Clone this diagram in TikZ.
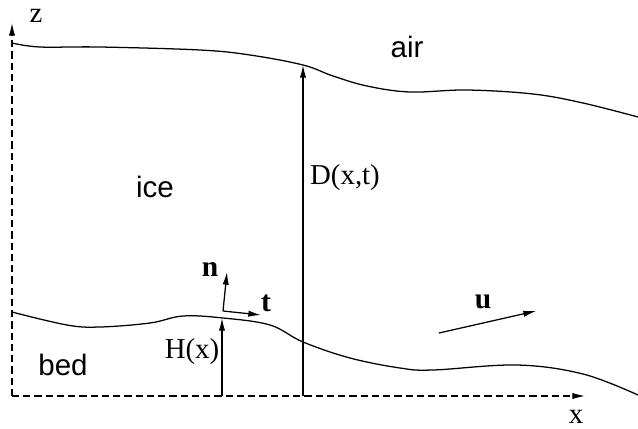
\documentclass[tikz,border=0pt]{standalone}
\usepackage{fontspec}
\setmainfont{Liberation Serif}
\setsansfont{Liberation Sans}
\usetikzlibrary{positioning, arrows.meta}

\begin{document}
\begin{tikzpicture}[
            x=0.025cm, y=-0.025cm,
            axis/.style={-{Latex[length=9pt, width=4.5pt]}, line width=0.8pt, dash pattern=on 5pt off 3pt},
            surface/.style={line width=0.9pt},
            arrow/.style={-{Latex[length=9pt, width=4.5pt]}, line width=0.9pt},
            region/.style={font=\sffamily\fontsize{21}{25}\selectfont, inner sep=0pt},
            label/.style={font=\fontsize{20.5}{24}\selectfont, inner sep=0pt},
            vec/.style={font=\bfseries\fontsize{21}{25}\selectfont, inner sep=0pt}
        ]
            \useasboundingbox (0,0) rectangle (638,428);

            % reference points
            \coordinate (origin) at (12,396);
            \coordinate (xend) at (585,396);
            \coordinate (zend) at (12,23);
            \coordinate (Dbase) at (303,396);
            \coordinate (Dtop) at (303,65);
            \coordinate (Hbase) at (222,396);
            \coordinate (Htop) at (222,318);
            \coordinate (ntbase) at (223,311);
            \coordinate (ntip) at (227,272);
            \coordinate (ttip) at (261,315);
            \coordinate (ubase) at (439,333);
            \coordinate (utip) at (536,311);

            % axes
            \draw[axis] (origin) -- (xend);
            \draw[axis] (origin) -- (zend);
            \node[label] (xlab) at (576,417) {x};
            \node[label] (zlab) at (36,16) {z};

            % ice surface and bed
            \draw[surface] plot[smooth, tension=0.6] coordinates {(12,43) (40,47) (100,47) (200,50) (250,55) (303,65) (333,76) (367,86) (410,92) (467,90) (533,94) (583,103) (638,117)};
            \draw[surface] plot[smooth, tension=0.6] coordinates {(12,312) (67,325) (100,327) (150,323) (183,316) (223,318) (270,325) (303,342) (350,358) (400,368) (433,370) (517,365) (583,374) (638,395)};

            % regions
            \node[region] (air) at (407,47) {air};
            \node[region] (ice) at (155,187) {ice};
            \node[region] (bed) at (63,365) {bed};

            % thickness and bed height
            \draw[arrow] (Dbase) -- (Dtop);
            \node[label] (Dlab) at (345,178) {D(x,t)};
            \draw[arrow] (Hbase) -- (Htop);
            \node[label] (Hlab) at (192,352) {H(x)};

            % normal, tangent and velocity
            \draw[arrow] (ntbase) -- (ntip);
            \draw[arrow] (ntbase) -- (ttip);
            \node[vec] (nlab) at (210,270) {n};
            \node[vec] (tlab) at (266,303) {t};
            \draw[arrow] (ubase) -- (utip);
            \node[vec] (ulab) at (483,302) {u};

        \end{tikzpicture}
\end{document}
